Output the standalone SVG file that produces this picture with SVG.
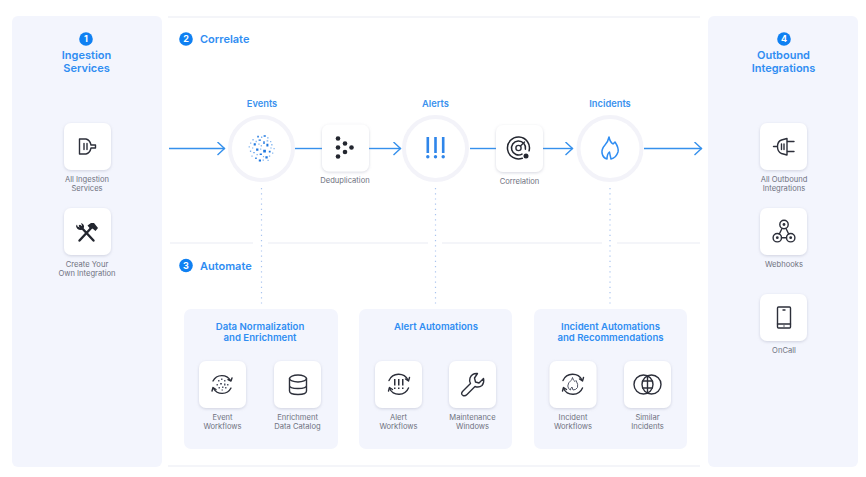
<svg xmlns="http://www.w3.org/2000/svg" width="866" height="477" viewBox="0 0 866 477">
<style>
text{font-family:Inter,"Noto Sans","Liberation Sans",sans-serif}
.panel{fill:#f3f5fd}
.rule{fill:#f4f5f9}
.t{font-size:11px;font-weight:600;fill:#2f8df2;text-anchor:middle}
.p{font-size:9.6px;font-weight:600;fill:#2f8df2;text-anchor:middle}
.s{font-size:11px;font-weight:600;fill:#2f8df2}
.h{font-size:9.300px;font-weight:600;fill:#3b92ee;text-anchor:middle}
.l{font-size:7.600px;fill:#6f7280;text-anchor:middle}
.n{font-size:9px;font-weight:700;fill:#fff;text-anchor:middle}
.badge{fill:#0f80f2}
.card{fill:#fff;filter:url(#sh)}
.ring{fill:#fff;stroke:#f3f3f9;stroke-width:4}
.flow{fill:none;stroke:#3590ec;stroke-width:1.4}
.dot{stroke:#a9c4ee;stroke-width:1.2;stroke-dasharray:1.2 4;fill:none}
.ic{fill:none;stroke:#2c2f3a;stroke-width:1.4;stroke-linecap:round;stroke-linejoin:round}
.icb{fill:none;stroke:#2f8df2;stroke-width:1.5;stroke-linecap:round;stroke-linejoin:round}
</style>
<defs>
<filter id="sh" x="-30%" y="-30%" width="160%" height="160%"><feDropShadow dx="0" dy="1" stdDeviation="1.6" flood-color="#8a8fa8" flood-opacity="0.35"/></filter>
<marker id="ah" viewBox="0 0 10 14" refX="9" refY="7" markerWidth="10" markerHeight="14" markerUnits="userSpaceOnUse" orient="auto"><path d="M1.500 0.500L8.500 7L1.500 13.500" fill="none" stroke="#3590ec" stroke-width="1.400"/></marker>
</defs>
<rect width="866" height="477" fill="#fff"/>
<rect class="panel" x="12" y="16" width="150" height="451" rx="6"/>
<rect class="panel" x="708" y="16" width="150" height="451" rx="6"/>
<rect class="rule" x="168" y="16" width="532" height="2"/>
<rect class="rule" x="168" y="465" width="532" height="2"/>
<rect class="rule" x="170" y="242" width="83" height="2"/>
<rect class="rule" x="268" y="242" width="160" height="2"/>
<rect class="rule" x="442" y="242" width="160" height="2"/>
<rect class="rule" x="617" y="242" width="83" height="2"/>

<g id="connectors">
<path class="dot" d="M261.500 188V304"/>
<path class="dot" d="M435.500 188V304"/>
<path class="dot" d="M610 188V304"/>
<path class="flow" marker-end="url(#ah)" d="M169 148.500H225"/>
<path class="flow" d="M295 148.500H322"/>
<path class="flow" marker-end="url(#ah)" d="M369 148.500H401"/>
<path class="flow" d="M470 148.500H496"/>
<path class="flow" marker-end="url(#ah)" d="M543 148.500H573"/>
<path class="flow" marker-end="url(#ah)" d="M644 148.500H702"/>
</g>

<g id="head-1"><circle class="badge" cx="86" cy="39" r="6.800"/><text class="n" x="86" y="42.200">1</text><text class="t" x="86.500" y="59">Ingestion</text><text class="t" x="86.500" y="71.500">Services</text></g>
<g id="head-2"><circle class="badge" cx="186" cy="39" r="6.800"/><text class="n" x="186" y="42.200">2</text><text class="s" x="200" y="43">Correlate</text></g>
<g id="head-3"><circle class="badge" cx="186" cy="265.500" r="6.800"/><text class="n" x="186" y="268.700">3</text><text class="s" x="200" y="269.500">Automate</text></g>
<g id="head-4"><circle class="badge" cx="784" cy="39" r="6.800"/><text class="n" x="784" y="42.200">4</text><text class="t" x="783.500" y="59">Outbound</text><text class="t" x="783.500" y="71.500">Integrations</text></g>

<g id="all-ingestion"><rect class="card" x="64" y="123" width="47" height="47" rx="7"/>
<path class="ic" d="M79.500 139H86Q90 140 91 145H95.500V148H91Q90 153 86 154H79.500Z"/><path class="ic" d="M84 143.500V149.500M87 143.500V149.500"/>
<text class="l" x="87" y="181.500">All Ingestion</text><text class="l" x="87" y="191">Services</text></g>
<g id="create-integration"><rect class="card" x="64" y="208" width="47" height="47" rx="7"/>
<path d="M80 226L93.500 240.500M93 226L79.500 240.500" fill="none" stroke="#23262f" stroke-width="2.400" stroke-linecap="round"/>
<path d="M76 226Q77 230.500 81.500 230L84 227.500Q84.500 224 81 223L82 225.500L80 227.500L77.500 226.500L77 224.500Z" fill="#23262f"/><path d="M87.500 225.500L91 223H94L98 228L95.500 231L92.500 228.500L90 228.500Z" fill="#23262f"/>
<text class="l" x="87" y="266.500">Create Your</text><text class="l" x="87" y="276">Own Integration</text></g>

<g id="events"><text class="h" x="262" y="107">Events</text><circle class="ring" cx="261.500" cy="148.500" r="31.500"/>
<path fill="#1f78e0" d="M257.300 135.700h1.500v1.700h-1.500zM263.600 135.200h2.200v1.600h-2.200zM258.600 139.400h2.300v1.400h-2.300zM263.300 141.200h1.400v2.800h-1.400zM253.700 143.300h2.100v2.200h-2.100zM266.400 143.800h2v2.600h-2zM256.100 148.500h2.300v2.200h-2.300zM263.200 149.800h2.700v2.600h-2.700zM268.800 150.800h1.800v1.800h-1.800zM259.700 153.400h2.200v1.700h-2.200zM265.400 156.300h2.300v2.200h-2.300zM255.200 157.400h1.500v1.500h-1.500zM258.800 159.600h2.200v2h-2.200z"/>
<path fill="#7fb3ef" d="M261 136.600h1.300v1.300h-1.300zM267.100 137.300h1.500v1.200h-1.500zM252.400 138.900h1.300v1.600h-1.300zM255.600 140.800h1.200v1.400h-1.200zM266.600 140.300h1.700v1.200h-1.700zM270.100 140.900h1.200v1.300h-1.200zM250.100 142.600h1.200v1.200h-1.200zM258.300 143.500h1.300v1.200h-1.300zM260.700 145.100h1.200v1.500h-1.200zM271.200 144.100h1.300v1.300h-1.300zM248.600 146.300h1.300v1.300h-1.300zM252 147.400h1.300v1.200h-1.300zM260.100 148.500h1.200v1.200h-1.200zM270.300 147.400h1.400v1.200h-1.400zM273.500 148.100h1.200v1.200h-1.200zM249.900 150.600h1.300v1.300h-1.300zM253.100 152.100h1.800v1.200h-1.800zM256.500 153.900h1.300v1.300h-1.300zM272.100 152.400h1.200v1.300h-1.200zM251.400 155.600h1.200v1.200h-1.200zM262.900 155.900h1.200v1.300h-1.200zM268.900 155.500h1.300v1.200h-1.300zM262.600 159.400h1.300v1.300h-1.300zM267.500 159.800h1.200v1.200h-1.200z"/></g>
<g id="deduplication"><rect class="card" x="322" y="124.500" width="47" height="47" rx="7"/>
<g fill="#23262f"><circle cx="338" cy="138.500" r="2.300"/><circle cx="345" cy="143.500" r="2.300"/><circle cx="338" cy="147.500" r="2.300"/><circle cx="351.500" cy="147.500" r="2.300"/><circle cx="345" cy="152" r="2.300"/><circle cx="338" cy="156.500" r="2.300"/></g>
<text class="l" x="345" y="183">Deduplication</text></g>
<g id="alerts"><text class="h" x="435.500" y="107">Alerts</text><circle class="ring" cx="435.500" cy="148.500" r="31.500"/>
<g fill="#2f86ea"><rect x="426.500" y="137" width="2.600" height="16"/><rect x="434.200" y="137" width="2.600" height="16"/><rect x="441.900" y="137" width="2.600" height="16"/><circle cx="427.800" cy="156.800" r="1.700"/><circle cx="435.500" cy="156.800" r="1.700"/><circle cx="443.200" cy="156.800" r="1.700"/></g></g>
<g id="correlation"><rect class="card" x="496" y="125" width="47" height="47" rx="7"/>
<path d="M522.300 158.300A11 11 0 1 1 529.100 150.800" fill="none" stroke="#23262f" stroke-width="1.500" stroke-linecap="round"/>
<path d="M522 154.100A7 7 0 1 1 525.400 149.200" fill="none" stroke="#23262f" stroke-width="1.500" stroke-linecap="round"/>
<circle cx="518.500" cy="148" r="2.600" class="ic"/><path class="ic" d="M520.500 146L524.500 142"/><circle cx="526" cy="156" r="2.500" fill="#23262f"/>
<text class="l" x="519.500" y="183.500">Correlation</text></g>
<g id="incidents"><text class="h" x="610" y="107">Incidents</text><circle class="ring" cx="610" cy="148.500" r="31.500"/>
<path class="icb" d="M609 137Q610 142 613 144L615 142Q619 148 618 152Q616 158 611 159Q610 155 609.500 152Q607 154 607 159Q603 158 602 153Q601.500 149 605 145Q608 142 609 137Z"/></g>

<g id="all-outbound"><rect class="card" x="760" y="123" width="47" height="47" rx="7"/>
<path class="ic" d="M773.500 146.500H777.500M777.500 146.500Q777.500 141.500 781.500 140L787 138.500V155L781.500 153.500Q777.500 152 777.500 146.500ZM787 141.500H794M787 151.500H794M781.500 144V149.500M784 144V149.500"/>
<text class="l" x="784" y="181.500">All Outbound</text><text class="l" x="784" y="191">Integrations</text></g>
<g id="webhooks"><rect class="card" x="760" y="208" width="47" height="47" rx="7"/>
<circle class="ic" cx="784" cy="224.500" r="4.200"/><circle class="ic" cx="777.300" cy="237.700" r="4.200"/><circle class="ic" cx="790.700" cy="237.700" r="4.200"/><path class="ic" d="M782 228.500L779.300 234M786 228.500L788.700 234M781.500 237.700H786.500"/><g fill="#2c2f3a"><circle cx="784" cy="224.500" r="1.400"/><circle cx="777.300" cy="237.700" r="1.400"/><circle cx="790.700" cy="237.700" r="1.400"/></g>
<text class="l" x="784" y="266.500">Webhooks</text></g>
<g id="oncall"><rect class="card" x="760" y="294" width="47" height="47" rx="7"/>
<rect class="ic" x="777.500" y="307" width="13" height="21" rx="1"/><path class="ic" d="M777.500 324H790.500M783 310H785"/><circle cx="784" cy="326" r="0.700" fill="#2c2f3a"/>
<text class="l" x="784" y="352.500">OnCall</text></g>

<g id="data-normalization"><rect class="panel" x="184" y="309" width="154" height="140" rx="7"/><text class="p" x="260" y="330">Data Normalization</text><text class="p" x="260" y="340.500">and Enrichment</text></g>
<g id="event-workflows"><rect class="card" x="199" y="361" width="47" height="47" rx="7"/>
<path class="ic" d="M213 381A10 10 0 0 1 230.500 380.500M231 388A10 10 0 0 1 213.500 388.500"/><path class="ic" d="M228 379.500L231 381L232 378M216 389.500L213 387.500L212 391"/>
<path fill="#55596a" d="M218 380h1.500v1.500h-1.500zM221 378.500h1.500v1.500h-1.500zM224 380h1.500v1.500h-1.500zM216.500 384h1.500v1.500h-1.500zM220 383h2v1.500h-2zM224 383.500h1.500v2h-1.500zM227 384h1.500v1.500h-1.500zM218.500 387h1.500v1.500h-1.500zM222 386.500h1.500v1.500h-1.500zM225 387h1.500v1.500h-1.500zM221.500 389.500h1.500v1h-1.500z"/>
<text class="l" x="222.500" y="419.500">Event</text><text class="l" x="222.500" y="429">Workflows</text></g>
<g id="enrichment-catalog"><rect class="card" x="274" y="361" width="47" height="47" rx="7"/>
<ellipse class="ic" cx="298" cy="378.500" rx="8.500" ry="3.500"/><path class="ic" d="M289.500 378.500V391Q289.500 394.500 298 394.500Q306.500 394.500 306.500 391V378.500M289.500 385.500Q289.500 388.500 298 388.500Q306.500 388.500 306.500 385.500"/>
<text class="l" x="297.500" y="419.500">Enrichment</text><text class="l" x="297.500" y="429">Data Catalog</text></g>

<g id="alert-automations"><rect class="panel" x="359" y="309" width="153" height="140" rx="7"/><text class="p" x="436" y="330">Alert Automations</text></g>
<g id="alert-workflows"><rect class="card" x="375" y="361" width="47" height="47" rx="7"/>
<path class="ic" d="M389 380.500A10.500 10.500 0 0 1 408 380M408.500 388A10.500 10.500 0 0 1 389.500 388.500"/><path class="ic" d="M405.500 379L408.500 381L409.500 377.500M392.500 389.500L389.500 387.500L388.500 391"/>
<g fill="#2c2f3a"><rect x="394" y="379" width="1.500" height="6.500"/><rect x="398" y="379" width="1.500" height="6.500"/><rect x="402" y="379" width="1.500" height="6.500"/><rect x="394" y="387.500" width="1.500" height="1.500"/><rect x="398" y="387.500" width="1.500" height="1.500"/><rect x="402" y="387.500" width="1.500" height="1.500"/></g>
<text class="l" x="398.500" y="419.500">Alert</text><text class="l" x="398.500" y="429">Workflows</text></g>
<g id="maintenance-windows"><rect class="card" x="449" y="361" width="47" height="47" rx="7"/>
<path class="ic" d="M477.500 373.500Q472 373 470 378Q469 381 470.500 383.500L462.500 391.500Q460.500 394 463 395.500Q465 396.500 467 394.500L475 386.500Q479 388 482 385.500Q484.500 382.500 483.500 378.500L479 383L475.500 382L474.500 378Z"/>
<text class="l" x="472.500" y="419.500">Maintenance</text><text class="l" x="472.500" y="429">Windows</text></g>

<g id="incident-automations"><rect class="panel" x="534" y="309" width="153" height="140" rx="7"/><text class="p" x="610.500" y="330">Incident Automations</text><text class="p" x="610.500" y="340.500">and Recommendations</text></g>
<g id="incident-workflows"><rect class="card" x="549.500" y="361" width="47" height="47" rx="7"/>
<path class="ic" d="M563 380.500A10.500 10.500 0 0 1 582 380M582.500 388A10.500 10.500 0 0 1 563.500 388.500"/><path class="ic" d="M579.500 379L582.500 381L583.500 377.500M566.500 389.500L563.500 387.500L562.500 391"/>
<path d="M572.500 377.500Q573 380.500 575 381.500L576 380.500Q578.500 384.500 577.500 387.500Q576 390 573 390L572 387Q570.500 388 570.500 390Q568 389 567.800 386Q568 382.500 571 380.500Q572 379.500 572.500 377.500Z" fill="none" stroke="#55596a" stroke-width="1" stroke-linejoin="round"/>
<text class="l" x="573" y="419.500">Incident</text><text class="l" x="573" y="429">Workflows</text></g>
<g id="similar-incidents"><rect class="card" x="624" y="361" width="47" height="47" rx="7"/>
<circle class="ic" cx="643.500" cy="384.500" r="9.500"/><circle class="ic" cx="651.500" cy="384.500" r="9.500"/>
<path class="ic" d="M647.500 376V393"/><path class="ic" d="M642.800 381H652.200M642.800 388H652.200"/>
<text class="l" x="647.500" y="419.500">Similar</text><text class="l" x="647.500" y="429">Incidents</text></g>
</svg>
